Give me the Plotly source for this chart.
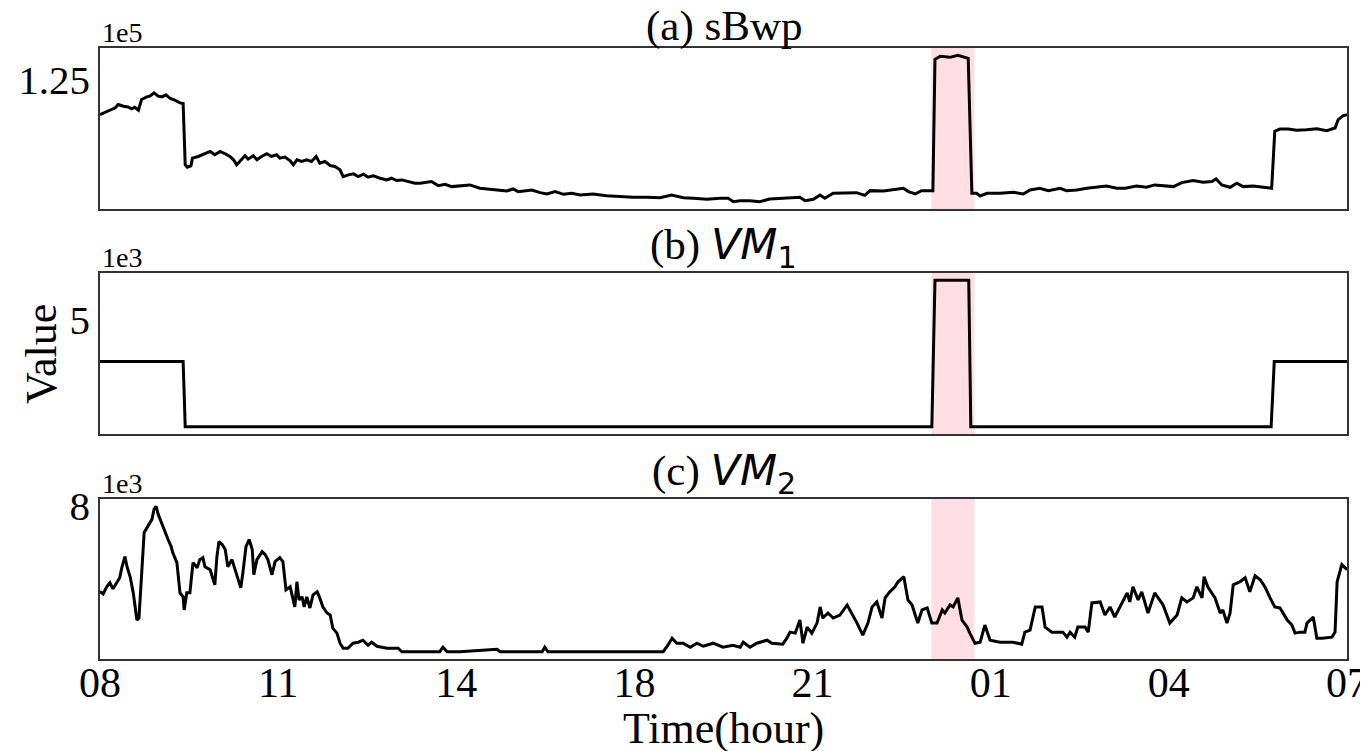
import plotly.graph_objects as go

# ---------------- data ----------------
tick_labels = ["08", "11", "14", "18", "21", "01", "04", "07"]
anomaly_window = [16.0, 16.83]   # hours after 08:00

sbwp_hours = [0.00, 0.10, 0.19, 0.29, 0.35, 0.45, 0.54, 0.61, 0.67, 0.74, 0.80, 0.90, 0.96, 1.04, 1.12, 1.19,
              1.27, 1.35, 1.44, 1.54, 1.60, 1.64, 1.68, 1.75, 1.78, 1.89, 2.02, 2.12, 2.21, 2.31, 2.41, 2.50,
              2.57, 2.63, 2.69, 2.79, 2.85, 2.95, 3.02, 3.11, 3.21, 3.30, 3.40, 3.46, 3.56, 3.66, 3.72, 3.79,
              3.88, 3.98, 4.07, 4.16, 4.23, 4.33, 4.43, 4.52, 4.62, 4.68, 4.78, 4.88, 4.97, 5.07, 5.16, 5.26,
              5.39, 5.52, 5.61, 5.71, 5.81, 5.93, 6.06, 6.16, 6.38, 6.51, 6.64, 6.77, 6.93, 7.12, 7.31, 7.51,
              7.70, 7.83, 7.95, 8.05, 8.31, 8.47, 8.60, 8.76, 8.92, 9.08, 9.24, 9.49, 9.75, 10.01, 10.26, 10.52,
              10.78, 11.00, 11.23, 11.42, 11.68, 11.93, 12.09, 12.19, 12.32, 12.51, 12.70, 12.89, 13.09, 13.28,
              13.47, 13.57, 13.73, 13.86, 13.95, 14.11, 14.37, 14.56, 14.72, 14.82, 15.08, 15.27, 15.46, 15.56,
              15.69, 15.81, 16.03, 16.07, 16.17, 16.36, 16.51, 16.71, 16.78, 16.87, 16.94, 17.07, 17.32, 17.58,
              17.77, 17.90, 18.09, 18.25, 18.48, 18.60, 18.80, 18.99, 19.21, 19.37, 19.57, 19.73, 19.95, 20.14,
              20.30, 20.46, 20.66, 20.82, 21.04, 21.23, 21.40, 21.48, 21.59, 21.75, 21.88, 22.00, 22.20, 22.39,
              22.55, 22.61, 22.71, 22.87, 23.03, 23.22, 23.42, 23.61, 23.77, 23.83, 23.93, 24.00]
sbwp_values = [119750, 120150, 120400, 120750, 121250, 121000, 120900, 120600, 120850, 120400, 122000, 122400,
               122500, 123000, 122500, 122400, 122700, 122150, 121900, 121500, 121400, 112250, 111900, 112100,
               113250, 113500, 113900, 114250, 113750, 114250, 113900, 113500, 113000, 112250, 112750, 113600,
               113100, 113600, 113000, 113500, 113900, 113500, 113750, 113250, 113400, 112850, 112250, 113000,
               112750, 113000, 112750, 113500, 112500, 112750, 112150, 112000, 111500, 110500, 110750, 110900,
               110500, 110850, 110400, 110600, 110250, 110000, 110250, 109900, 110000, 109750, 109500, 109500,
               109750, 109150, 109350, 109000, 109100, 109250, 108750, 108600, 108400, 108350, 108650, 108250,
               108500, 108100, 107900, 108250, 107850, 108000, 107750, 107900, 107650, 107500, 107400, 107400,
               107350, 107750, 107350, 107250, 107100, 107250, 107250, 106750, 106900, 106900, 106750, 107150,
               107250, 107250, 107400, 106900, 107100, 107750, 107250, 108000, 108000, 108100, 107700, 108400,
               108350, 108500, 108750, 108250, 107900, 108400, 108400, 128000, 128450, 128300, 128600, 128150,
               108000, 108000, 107600, 108000, 108000, 108150, 107900, 108500, 108750, 108400, 108750, 108400,
               108500, 108750, 109000, 109100, 108750, 108750, 109100, 108900, 109250, 109100, 109000, 109600,
               109900, 109650, 109750, 110150, 109250, 108900, 109500, 109000, 109100, 108900, 108750, 117250,
               117600, 117600, 117400, 117500, 117650, 117350, 117750, 119000, 119600, 119750]

vm1_hours = [0.00, 1.60, 1.64, 16.01, 16.07, 16.72, 16.76, 22.54, 22.60, 24.00]
vm1_values = [3040, 3040, 0, 0, 6820, 6820, 0, 0, 3040, 3040]

vm2_hours = [0.00, 0.06, 0.13, 0.19, 0.25, 0.33, 0.38, 0.42, 0.48, 0.52, 0.58, 0.64, 0.71, 0.75, 0.81, 0.85,
             0.92, 1.00, 1.04, 1.08, 1.12, 1.19, 1.25, 1.31, 1.37, 1.40, 1.48, 1.54, 1.60, 1.62, 1.67, 1.73,
             1.79, 1.87, 1.92, 1.98, 2.02, 2.12, 2.21, 2.25, 2.29, 2.35, 2.41, 2.46, 2.54, 2.64, 2.71, 2.75,
             2.81, 2.87, 2.93, 2.96, 3.02, 3.12, 3.18, 3.23, 3.31, 3.37, 3.46, 3.52, 3.58, 3.66, 3.71, 3.75,
             3.79, 3.83, 3.89, 3.93, 3.98, 4.04, 4.10, 4.18, 4.23, 4.29, 4.37, 4.43, 4.48, 4.56, 4.62, 4.68,
             4.77, 4.87, 4.97, 5.06, 5.16, 5.23, 5.33, 5.52, 5.74, 5.81, 6.54, 6.60, 6.68, 6.93, 7.64, 7.70,
             8.51, 8.56, 8.62, 10.84, 10.93, 11.01, 11.10, 11.22, 11.36, 11.49, 11.61, 11.80, 11.99, 12.18,
             12.32, 12.38, 12.51, 12.64, 12.84, 12.93, 13.14, 13.22, 13.28, 13.38, 13.47, 13.53, 13.61, 13.70,
             13.80, 13.86, 13.91, 14.01, 14.11, 14.24, 14.38, 14.47, 14.57, 14.68, 14.78, 14.86, 14.95, 15.05,
             15.11, 15.20, 15.30, 15.36, 15.47, 15.55, 15.63, 15.69, 15.74, 15.82, 15.92, 16.01, 16.11, 16.21,
             16.26, 16.36, 16.42, 16.51, 16.59, 16.69, 16.74, 16.84, 16.94, 17.03, 17.13, 17.32, 17.57, 17.74,
             17.80, 17.90, 18.00, 18.13, 18.19, 18.32, 18.53, 18.61, 18.67, 18.76, 18.82, 18.96, 19.02, 19.09,
             19.25, 19.34, 19.44, 19.53, 19.67, 19.77, 19.82, 19.88, 19.98, 20.05, 20.17, 20.30, 20.46, 20.59,
             20.73, 20.82, 20.92, 21.04, 21.11, 21.21, 21.25, 21.32, 21.46, 21.56, 21.61, 21.69, 21.75, 21.81,
             21.94, 22.04, 22.13, 22.23, 22.33, 22.42, 22.52, 22.61, 22.71, 22.85, 22.94, 23.00, 23.10, 23.19,
             23.23, 23.35, 23.42, 23.52, 23.71, 23.77, 23.81, 23.90, 24.00]
vm2_values = [3290, 3160, 3545, 3765, 3435, 3820, 4040, 4590, 5195, 4645, 4095, 3215, 1730, 1840, 4920, 6515,
              6845, 7230, 7780, 7945, 7505, 6955, 6515, 6130, 5745, 5415, 4865, 3215, 2995, 2280, 3215, 3215,
              4865, 4590, 5030, 5140, 4645, 4480, 3655, 5195, 6020, 5855, 5580, 4645, 5030, 4095, 3490, 4315,
              5745, 6130, 5580, 4205, 5030, 5470, 5305, 5030, 4205, 4920, 5140, 4920, 3380, 3545, 2995, 2445,
              3820, 2830, 2995, 2445, 2995, 2390, 3105, 3270, 2940, 2445, 2115, 2005, 1290, 1015, 465, 190,
              190, 465, 520, 630, 355, 520, 300, 190, 190, 0, 0, 245, 0, 0, 135, 0,
              0, 245, 0, 0, 355, 740, 465, 465, 245, 465, 300, 465, 245, 355,
              245, 520, 245, 465, 630, 465, 410, 740, 1070, 1015, 1730, 465, 1345, 1015,
              1565, 2445, 1840, 2115, 1840, 2005, 2555, 2115, 1565, 905, 1565, 2445, 2720, 1840,
              2940, 3270, 3545, 3820, 4095, 2830, 2555, 2005, 1565, 2280, 2390, 1565, 1565, 2280,
              2115, 2555, 2445, 2940, 1730, 1345, 1015, 465, 520, 1455, 630, 520, 520, 410,
              1070, 1180, 2445, 2445, 1345, 1070, 1070, 795, 1070, 795, 1345, 1345, 1070, 2665,
              2720, 2005, 2445, 1895, 2665, 3215, 2720, 3545, 2830, 3270, 2115, 3215, 2555, 1565,
              2005, 2940, 2720, 2940, 3545, 2940, 4095, 3545, 2940, 2115, 2280, 1565, 2115, 3655,
              3820, 4040, 3270, 4150, 3930, 3545, 2940, 2445, 2390, 1730, 1455, 1015, 1070, 1070,
              1565, 1895, 740, 740, 795, 1070, 3820, 4755, 4480]

# ---------------- figure ----------------
FONT = "Liberation Serif"
LINE = dict(color="black", width=3)


def padded(vals):
    lo, hi = min(vals), max(vals)
    d = (hi - lo) * 0.05
    return [lo - d, hi + d]


fig = go.Figure()
fig.add_trace(go.Scatter(x=sbwp_hours, y=sbwp_values, mode="lines", line=LINE, xaxis="x", yaxis="y"))
fig.add_trace(go.Scatter(x=vm1_hours, y=vm1_values, mode="lines", line=LINE, xaxis="x2", yaxis="y2"))
fig.add_trace(go.Scatter(x=vm2_hours, y=vm2_values, mode="lines", line=LINE, xaxis="x3", yaxis="y3"))

domains = [[0.7365, 1.0], [0.3682, 0.6318], [0.0, 0.2619]]
xrange_ = [0, 24]
tickvals = [24 * i / 7 for i in range(8)]

axis_common = dict(showline=True, mirror=True, linecolor="#333333", linewidth=1.5,
                   showgrid=False, zeroline=False, ticks="", automargin=False,
                   tickfont=dict(family=FONT, size=41, color="black"))

# the page body has an 8px margin, so the figure is 8px smaller than the window
layout = dict(
    width=1360, height=743,
    margin=dict(l=92, r=21, t=40, b=92),
    paper_bgcolor="white", plot_bgcolor="white",
    showlegend=False,
    font=dict(family=FONT, color="black"),
)

for i, (suffix, yvals, ytick, ytxt) in enumerate([
        ("", sbwp_values, 125000, "1.25"),
        ("2", vm1_values, 5000, "5"),
        ("3", vm2_values, 8000, "8")]):
    xa = dict(axis_common, domain=[0, 1], range=xrange_, anchor="y" + suffix,
              tickvals=tickvals, ticktext=tick_labels, showticklabels=(suffix == "3"))
    xa["tickfont"] = dict(family=FONT, size=42, color="black")
    if suffix == "3":
        xa["ticklabelstandoff"] = -14
    if suffix:
        xa["matches"] = "x"
    ya = dict(axis_common, domain=domains[i], range=padded(yvals), anchor="x" + suffix,
              tickvals=[ytick], ticktext=[ytxt])
    layout["xaxis" + suffix] = xa
    layout["yaxis" + suffix] = ya

fig.update_layout(**layout)

# anomaly spans
for suffix in ["", "2", "3"]:
    fig.add_shape(type="rect", xref="x" + suffix, yref=("y" + suffix + " domain"),
                  x0=anomaly_window[0], x1=anomaly_window[1], y0=0, y1=1,
                  fillcolor="#FFC0CB", opacity=0.5, line=dict(width=0), layer="below")

titles = ["(a) sBwp",
          '(b) <span style="font-family:DejaVu Sans"><i>VM</i><sub>1</sub></span>',
          '(c) <span style="font-family:DejaVu Sans"><i>VM</i><sub>2</sub></span>']
offsets = ["1e5", "1e3", "1e3"]
for i in range(3):
    top = domains[i][1]
    fig.add_annotation(text=titles[i], xref="paper", yref="paper", x=0.5, y=top,
                       xanchor="center", yanchor="bottom", showarrow=False, yshift=-4,
                       font=dict(family=FONT, size=43, color="black"))
    fig.add_annotation(text=offsets[i], xref="paper", yref="paper", x=0.0, y=top,
                       xanchor="left", yanchor="bottom", showarrow=False, yshift=-2,
                       font=dict(family=FONT, size=28, color="black"))

fig.add_annotation(text="Value", xref="paper", yref="paper", x=-0.047, y=0.5,
                   xanchor="center", yanchor="middle", textangle=-90, showarrow=False,
                   font=dict(family=FONT, size=44, color="black"))
fig.add_annotation(text="Time(hour)", xref="paper", yref="paper", x=0.5, y=-0.114,
                   xanchor="center", yanchor="middle", showarrow=False,
                   font=dict(family=FONT, size=44, color="black"))

fig.write_html("out.html")
